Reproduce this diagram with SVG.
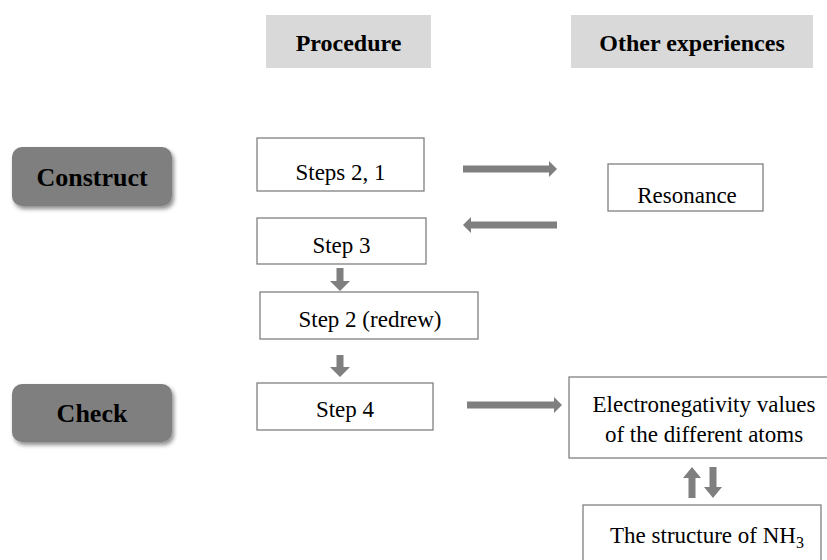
<svg xmlns="http://www.w3.org/2000/svg" width="827" height="560" viewBox="0 0 827 560">
<defs>
<filter id="sh" x="-10%" y="-10%" width="130%" height="140%">
<feDropShadow dx="2" dy="3" stdDeviation="2" flood-color="#000" flood-opacity="0.45"/>
</filter>
<style>
.hdr{fill:#d9d9d9}
.hdrt{font-family:"Liberation Serif","Times New Roman",serif;font-weight:bold;font-size:24px;fill:#000;text-anchor:middle}
.phase{fill:#7f7f7f;filter:url(#sh)}
.phaset{font-family:"Liberation Serif","Times New Roman",serif;font-weight:bold;font-size:26px;fill:#000;text-anchor:middle}
.box{fill:#fff;stroke:#808080;stroke-width:1.3}
.t{font-family:"Liberation Serif","Times New Roman",serif;font-size:23px;fill:#000;text-anchor:middle}
.arr{fill:#7f7f7f}
</style>
</defs>
<g id="hdr-procedure"><rect class="hdr" x="266" y="15" width="165" height="53"/><text class="hdrt" x="348.5" y="51">Procedure</text></g>
<g id="hdr-other"><rect class="hdr" x="571" y="15" width="242" height="53"/><text class="hdrt" x="692" y="51">Other experiences</text></g>
<g id="construct"><rect class="phase" x="12" y="147" width="160" height="59" rx="10"/><text class="phaset" x="92" y="186">Construct</text></g>
<g id="check"><rect class="phase" x="12" y="384" width="160" height="58" rx="10"/><text class="phaset" x="92" y="422">Check</text></g>
<g id="steps21"><rect class="box" x="257" y="138" width="167" height="53"/><text class="t" x="340.5" y="180">Steps 2, 1</text></g>
<g id="resonance"><rect class="box" x="608" y="164" width="155" height="47"/><text class="t" x="687" y="203">Resonance</text></g>
<g id="step3"><rect class="box" x="257" y="218" width="169" height="46"/><text class="t" x="341.5" y="253">Step 3</text></g>
<g id="step2r"><rect class="box" x="260" y="292" width="218" height="47"/><text class="t" x="370" y="327">Step 2 (redrew)</text></g>
<g id="step4"><rect class="box" x="257" y="383" width="176" height="47"/><text class="t" x="345" y="417">Step 4</text></g>
<g id="electro"><rect class="box" x="569" y="377" width="262" height="81"/><text class="t" x="704" y="412">Electronegativity values</text><text class="t" x="704" y="442">of the different atoms</text></g>
<g id="nh3"><rect class="box" x="583" y="505" width="238" height="60"/><text class="t" x="707" y="543">The structure of NH<tspan font-size="16" dy="5">3</tspan></text></g>
<g id="connectors">
<polygon class="arr" points="463,165.5 549,165.5 549,161 557,169 549,177 549,172.5 463,172.5"/>
<polygon class="arr" points="557,221.5 471,221.5 471,217 463,225 471,233 471,228.5 557,228.5"/>
<polygon class="arr" points="336.5,268 343.5,268 343.5,281 350,281 340,291 330,281 336.5,281"/>
<polygon class="arr" points="336.5,355 343.5,355 343.5,367 350,367 340,377 330,367 336.5,367"/>
<polygon class="arr" points="467,401.5 554,401.5 554,397 562,405 554,413 554,408.5 467,408.5"/>
<polygon class="arr" points="688.5,498 695.5,498 695.5,478 701,478 692,467 683,478 688.5,478"/>
<polygon class="arr" points="709.5,467 716.5,467 716.5,487 722,487 713,498 704,487 709.5,487"/>
</g>
</svg>
